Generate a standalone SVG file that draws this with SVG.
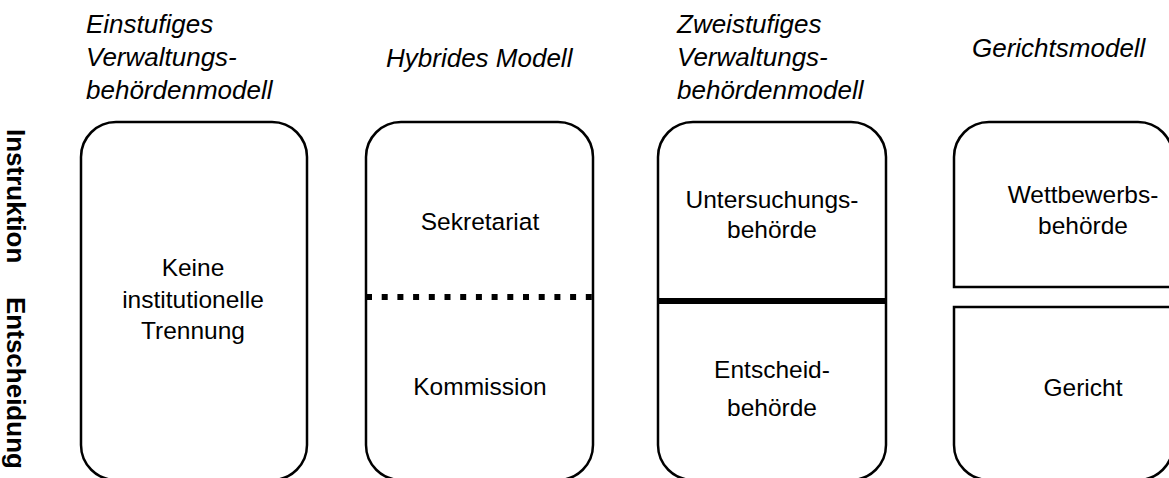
<svg xmlns="http://www.w3.org/2000/svg" width="1169" height="478" viewBox="0 0 1169 478">
<style>
.box{fill:#fff;stroke:#000;stroke-width:2.5}
.hd{font-family:"Liberation Sans",Arial,sans-serif;font-style:italic;font-size:26px;fill:#000}
.tx{font-family:"Liberation Sans",Arial,sans-serif;font-size:24.5px;fill:#000;text-anchor:middle}
.side{font-family:"Liberation Sans",Arial,sans-serif;font-weight:bold;font-size:26px;fill:#000}
</style>
<rect width="1169" height="478" fill="#fff"/>
<g id="side-labels">
<text class="side" transform="translate(7,129) rotate(90)">Instruktion</text>
<text class="side" transform="translate(7,297) rotate(90)">Entscheidung</text>
</g>
<g id="einstufig">
<text class="hd" x="86" y="33">Einstufiges</text>
<text class="hd" x="86" y="66">Verwaltungs-</text>
<text class="hd" x="86" y="99">behördenmodell</text>
<rect class="box" x="81" y="122" width="226" height="358" rx="35"/>
<text class="tx" x="193" y="276">Keine</text>
<text class="tx" x="193" y="308">institutionelle</text>
<text class="tx" x="193" y="339">Trennung</text>
</g>
<g id="hybrid">
<text class="hd" x="386" y="67">Hybrides Modell</text>
<rect class="box" x="366" y="122" width="227" height="358" rx="35"/>
<text class="tx" x="480" y="230">Sekretariat</text>
<text class="tx" x="480" y="395">Kommission</text>
</g>
<g id="zweistufig">
<text class="hd" x="677" y="33">Zweistufiges</text>
<text class="hd" x="677" y="66">Verwaltungs-</text>
<text class="hd" x="677" y="99">behördenmodell</text>
<rect class="box" x="658" y="122" width="228" height="358" rx="35"/>
<text class="tx" x="772" y="208">Untersuchungs-</text>
<text class="tx" x="772" y="238">behörde</text>
<text class="tx" x="772" y="378">Entscheid-</text>
<text class="tx" x="772" y="416">behörde</text>
</g>
<g id="gericht">
<text class="hd" x="972" y="57">Gerichtsmodell</text>
<path class="box" d="M954,287 V157 A35,35 0 0 1 989,122 H1138 A35,35 0 0 1 1173,157 V287 Z"/>
<path class="box" d="M954,307 V445 A35,35 0 0 0 989,480 H1138 A35,35 0 0 0 1173,445 V307 Z"/>
<text class="tx" x="1083" y="203">Wettbewerbs-</text>
<text class="tx" x="1083" y="234">behörde</text>
<text class="tx" x="1083" y="396">Gericht</text>
</g>
<g id="connectors">
<line x1="366" y1="297" x2="593" y2="297" stroke="#000" stroke-width="6" stroke-dasharray="6 9.7"/>
<line x1="658" y1="301" x2="886" y2="301" stroke="#000" stroke-width="6"/>
</g>
</svg>
